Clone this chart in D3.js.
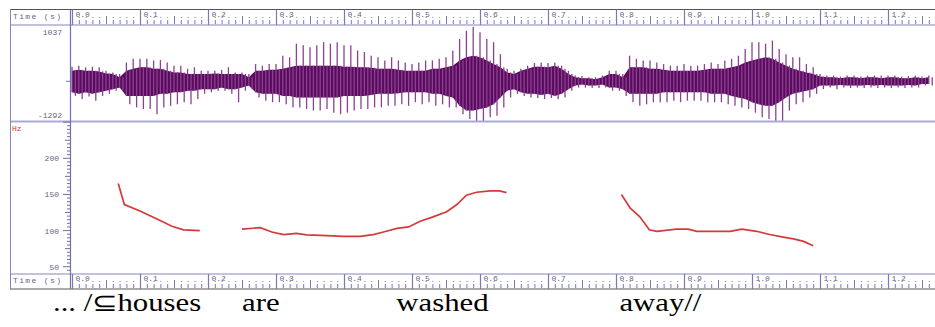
<!DOCTYPE html>
<html>
<head>
<meta charset="utf-8" />
<title>Waveform and pitch</title>
<script src="https://d3js.org/d3.v7.min.js"></script>
<style>
  body { margin: 0; background: #fff; }
  .lbl { font-family: "Liberation Mono", "DejaVu Sans Mono", monospace; font-size: 8px; fill: #6a6482; }
</style>
</head>
<body>
<svg id="chart" width="935" height="327"></svg>
<script>
// waveform envelope, one value per 10 ms bin from 0.00 s
var binStep = 0.01;
var spikeHi = [280,300,270,280,270,200,170,140,360,430,
  430,430,400,410,360,300,300,240,270,200,
  200,200,220,270,170,170,140,330,300,330,
  330,490,460,720,690,650,690,750,720,750,
  690,690,590,560,490,460,400,460,400,360,
  330,360,400,400,430,460,590,810,970,1040,
  940,810,750,520,240,200,240,300,350,360,
  350,360,300,200,110,100,80,80,110,200,
  200,140,490,430,400,400,360,330,300,300,
  330,300,300,330,360,330,400,430,490,620,
  750,750,720,780,620,520,460,460,330,270,
  140,110,110,90,110,110,90,110,110,110,
  110,110,90,100,110,90,110];
var spikeLo = [-280,-340,-290,-370,-280,-240,-180,-180,-440,-500,
  -530,-530,-630,-500,-470,-440,-400,-440,-340,-240,
  -210,-180,-180,-240,-400,-180,-150,-310,-370,-400,
  -400,-440,-500,-500,-530,-560,-560,-530,-600,-630,
  -600,-560,-530,-530,-500,-500,-470,-470,-440,-470,
  -400,-440,-400,-470,-440,-500,-500,-630,-720,-760,
  -760,-690,-660,-500,-310,-240,-280,-310,-320,-340,
  -320,-340,-310,-180,-120,-120,-130,-130,-120,-180,
  -180,-280,-400,-470,-440,-400,-400,-400,-370,-400,
  -370,-370,-370,-400,-400,-400,-440,-470,-500,-530,
  -600,-690,-720,-760,-760,-560,-440,-400,-310,-240,
  -150,-120,-150,-120,-130,-120,-130,-120,-130,-120,
  -130,-120,-130,-120,-120,-80,-80];
var coreHi = [200,220,200,200,190,150,140,80,200,240,
  270,270,240,240,200,170,170,140,140,140,
  140,150,140,140,140,140,80,200,200,220,
  220,240,270,300,300,300,300,300,300,300,
  280,280,270,270,260,240,240,240,220,200,
  200,200,200,240,240,270,300,400,460,490,
  460,400,330,270,170,140,200,240,280,280,
  270,300,240,140,80,60,60,40,80,140,
  140,80,270,270,270,240,240,220,200,200,
  200,200,200,220,240,240,240,270,300,360,
  400,430,460,430,360,300,240,200,170,140,
  90,80,80,60,80,80,60,80,80,60,
  80,80,60,60,80,60,80];
var coreLo = [-210,-240,-210,-240,-210,-180,-150,-120,-280,-280,
  -280,-280,-280,-240,-240,-210,-210,-180,-180,-150,
  -150,-150,-120,-150,-150,-120,-80,-210,-240,-240,
  -240,-280,-280,-310,-310,-310,-310,-310,-310,-310,
  -280,-280,-280,-280,-260,-240,-240,-240,-230,-210,
  -210,-210,-210,-240,-240,-280,-310,-470,-560,-560,
  -530,-500,-440,-310,-180,-150,-210,-240,-240,-260,
  -240,-280,-240,-150,-80,-60,-80,-80,-60,-120,
  -120,-150,-240,-240,-240,-240,-240,-210,-210,-210,
  -210,-210,-210,-210,-240,-240,-240,-280,-310,-340,
  -400,-440,-470,-470,-400,-310,-240,-210,-180,-150,
  -80,-80,-80,-70,-80,-80,-80,-70,-80,-70,
  -80,-80,-80,-70,-80,-50,-50];
var ampLabels = ["1037", "-1292"];

// pitch track (Hz), three voiced stretches
var pitchTime1 = [0.068, 0.077, 0.100, 0.125, 0.147, 0.164, 0.188];
var pitchHz1 = [165, 136, 127, 116, 106, 101, 100];
var pitchTime2 = [0.250, 0.277, 0.294, 0.311, 0.330, 0.345, 0.375, 0.399, 0.424, 0.443, 0.458,
  0.478, 0.495, 0.512, 0.531, 0.551, 0.566, 0.580, 0.595, 0.615, 0.629, 0.639];
var pitchHz2 = [102, 104, 98, 94.5, 96, 94, 93, 92, 92, 94.5, 98,
  103, 105, 113, 119, 126, 136, 149, 153, 155, 155, 152.5];
var pitchTime3 = [0.808, 0.821, 0.835, 0.849, 0.860, 0.889, 0.906, 0.919, 0.968, 0.985, 1.007,
  1.026, 1.046, 1.061, 1.076, 1.090];
var pitchHz3 = [150, 131, 119, 101, 99, 102, 102, 99, 99, 102, 99,
  94.5, 91, 88.5, 85, 79];
var hzTicks = [50, 100, 150, 200];

var words = ["... /\u2286houses", "are", "washed", "away//"];
var wordTimes = [-0.028, 0.25, 0.477, 0.805];

var svg = d3.select("#chart");
var frameCol = "#8585c0";

var timeX = d3.scaleLinear().domain([0, 1.2]).range([72, 888]);
var ampY = d3.scaleLinear().domain([-760, 1040]).range([121, 27]);
var hzY = d3.scaleLinear().domain([50, 200]).range([266.7, 158.3]);

var tMax = timeX.invert(935);
var bins = d3.range(spikeHi.length).map(function (i) { return i * binStep; });
var halfBin = (timeX(binStep) - timeX(0)) / 2;

// ---- waveform ----
var wave = svg.append("g");

// dense core
wave.append("path")
  .datum(bins)
  .attr("fill", "#5c0a60")
  .attr("d", d3.area()
    .x(function (t) { return timeX(t); })
    .y0(function (t, i) { return ampY(coreLo[i]); })
    .y1(function (t, i) { return ampY(coreHi[i]); }));

// upward pulses
wave.selectAll("line.up")
  .data(bins)
  .enter().append("line")
  .attr("class", "up")
  .attr("x1", function (t) { return timeX(t); })
  .attr("x2", function (t) { return timeX(t); })
  .attr("y1", function (t, i) { return ampY(coreLo[i]); })
  .attr("y2", function (t, i) { return ampY(spikeHi[i]); })
  .attr("stroke", "#8a4290")
  .attr("stroke-width", 1.3);

// downward pulses, half a bin later
wave.selectAll("line.dn")
  .data(bins)
  .enter().append("line")
  .attr("class", "dn")
  .attr("x1", function (t) { return timeX(t) + halfBin; })
  .attr("x2", function (t) { return timeX(t) + halfBin; })
  .attr("y1", function (t, i) { return ampY(coreHi[i]); })
  .attr("y2", function (t, i) { return ampY(spikeLo[i]); })
  .attr("stroke", "#8a4290")
  .attr("stroke-width", 1.3);

// ---- pitch ----
var pitchLine = d3.line()
  .x(function (d) { return timeX(d[0]); })
  .y(function (d) { return hzY(d[1]); });
[[pitchTime1, pitchHz1], [pitchTime2, pitchHz2], [pitchTime3, pitchHz3]].forEach(function (s) {
  svg.append("path")
    .datum(d3.zip(s[0], s[1]))
    .attr("fill", "none")
    .attr("stroke", "#d43a3a")
    .attr("stroke-width", 1.7)
    .attr("d", pitchLine);
});

// ---- frame ----
function hline(y, col, w) {
  svg.append("line").attr("x1", 10).attr("x2", 935).attr("y1", y).attr("y2", y)
    .attr("stroke", col).attr("stroke-width", w || 1);
}
hline(9.5, "#555", 1);
hline(25, frameCol, 1.2);
hline(121.5, "#a9a9d6", 2);
hline(274, frameCol, 1.2);
hline(289, "#555", 1);
svg.append("line").attr("x1", 10.5).attr("x2", 10.5).attr("y1", 9.5).attr("y2", 289)
  .attr("stroke", frameCol);
svg.append("line").attr("x1", 70.5).attr("x2", 70.5).attr("y1", 9.5).attr("y2", 289)
  .attr("stroke", "#7070b0").attr("stroke-width", 1.2);

// ---- time axes ----
function timeAxis(top, bottom) {
  var g = svg.append("g");
  g.append("text").attr("class", "lbl").attr("x", 13).attr("y", top + 9)
    .attr("textLength", 48).text("Time (s)");
  d3.range(0, Math.floor(tMax * 100) + 1).forEach(function (k) {
    var x = timeX(k / 100) + 0.5;
    if (k % 10 === 0) {
      g.append("line").attr("x1", x).attr("x2", x).attr("y1", top).attr("y2", bottom)
        .attr("stroke", "#7a7ab0").attr("stroke-width", 1.2);
      g.append("text").attr("class", "lbl").attr("x", x + 3).attr("y", top + 7)
        .text(d3.format(".1f")(k / 100));
    } else {
      var len = (k % 5 === 0) ? 8 : 4;
      g.append("line").attr("x1", x).attr("x2", x).attr("y1", bottom - 1).attr("y2", bottom - 1 - len)
        .attr("stroke", "#7a7ab0");
      if (k % 5 !== 0) {
        g.append("rect").attr("x", x - 0.5).attr("y", bottom - 8).attr("width", 1).attr("height", 1)
          .attr("fill", "#7a7ab0");
      }
    }
  });
}
timeAxis(9.5, 25);
timeAxis(274, 289);

// ---- amplitude labels ----
svg.append("text").attr("class", "lbl").attr("x", 62).attr("y", 35).attr("text-anchor", "end").text(ampLabels[0]);
svg.append("text").attr("class", "lbl").attr("x", 62).attr("y", 118).attr("text-anchor", "end").text(ampLabels[1]);
svg.append("line").attr("x1", 66).attr("x2", 70).attr("y1", ampY(0)).attr("y2", ampY(0)).attr("stroke", "#7070b0");

// ---- pitch axis ----
svg.append("text").attr("class", "lbl").attr("x", 12).attr("y", 131)
  .style("fill", "#d43a3a").text("Hz");
d3.range(45, 251, 5).forEach(function (f) {
  var len = f % 50 === 0 ? 7 : (f % 25 === 0 ? 5 : 3);
  svg.append("line").attr("x1", 70 - len).attr("x2", 70).attr("y1", hzY(f)).attr("y2", hzY(f))
    .attr("stroke", "#7070b0");
});
hzTicks.forEach(function (f) {
  svg.append("text").attr("class", "lbl").attr("x", 59).attr("y", hzY(f) + 3)
    .attr("text-anchor", "end").text(f);
});

// ---- gloss (the printed line is stretched sideways) ----
var stretch = 1.23;
var gloss = svg.append("g").attr("transform", "scale(" + stretch + ",1)");
words.forEach(function (w, i) {
  gloss.append("text")
    .style("font-family", "'Liberation Serif'")
    .style("font-size", "25px")
    .style("fill", "#000")
    .attr("x", timeX(wordTimes[i]) / stretch).attr("y", 311)
    .text(w);
});
</script>
</body>
</html>
